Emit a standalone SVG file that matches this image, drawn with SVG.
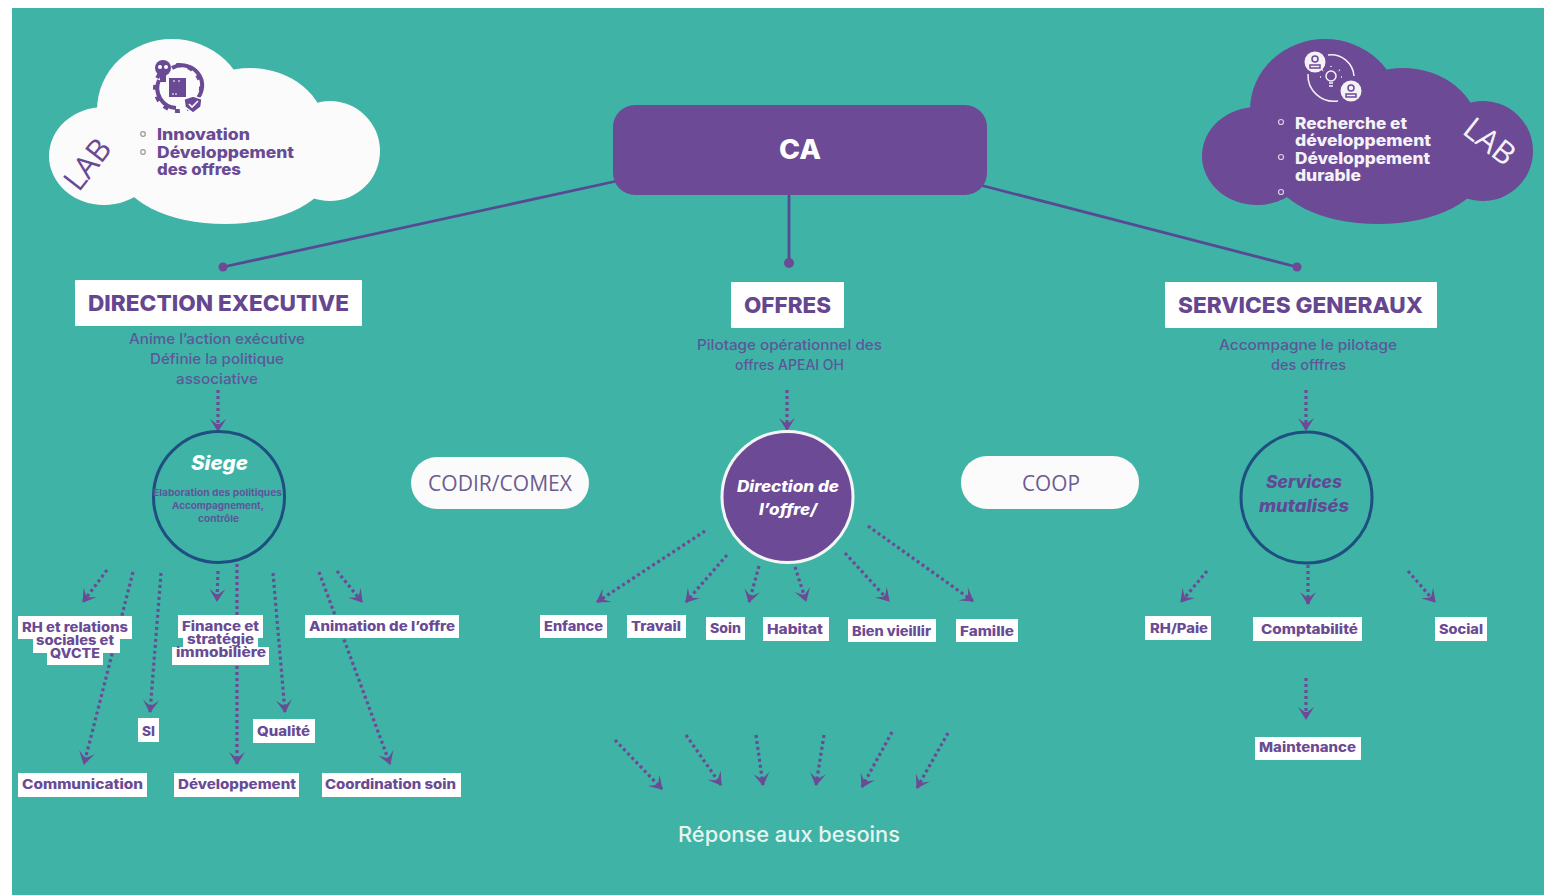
<svg xmlns="http://www.w3.org/2000/svg" width="1544" height="895" viewBox="0 0 1544 895">
<style>
text{font-family:"Inter","Liberation Sans",sans-serif;}
.lb{fill:#fff;}
.t{fill:#6a4a94;font-weight:800;font-size:13px;}
.h{fill:#66468f;font-weight:800;font-size:22px;}
.s{fill:#5c5799;font-weight:500;font-size:14.5px;}
.m{fill:#5c5799;font-weight:700;font-size:9.5px;}
.c{fill:#6a4a94;font-weight:800;font-size:16px;}
.w{fill:#f4f2f6;font-weight:800;font-size:16px;}
.i{font-style:italic;font-weight:800;}
.p{font-family:"Open Sans","Liberation Sans",sans-serif;font-size:22px;fill:#6d5c90;}
.lab{font-family:"Open Sans","Liberation Sans",sans-serif;font-size:31px;font-weight:400;}
.d{fill:none;stroke:#6d4a96;stroke-width:3.2;stroke-dasharray:3 3;marker-end:url(#ah);}
.l{fill:none;stroke:#574a94;stroke-width:2.8;}
.ring{fill:none;stroke:#1f4f80;stroke-width:3;}
</style>
<defs>
<marker id="ah" markerUnits="userSpaceOnUse" markerWidth="20" markerHeight="20" viewBox="-15 -10 20 20" refX="0" refY="0" orient="auto"><path d="M1,0 L-12,-8 L-7,-1.5 L-7,1.5 L-12,8 Z" fill="#6d4a96"/></marker>
<g id="cloud"><ellipse cx="172" cy="110" rx="75" ry="71"/><ellipse cx="250" cy="130" rx="75" ry="62"/><circle cx="330" cy="151" r="50"/><ellipse cx="104" cy="156" rx="55" ry="49"/><ellipse cx="225" cy="170" rx="105" ry="54"/><rect x="105" y="115" width="220" height="65"/></g>
</defs>
<rect width="1544" height="895" fill="#fff"/>
<rect x="12" y="8" width="1532" height="887" fill="#3fb3a6"/>

<g id="connectors">
<path class="l" d="M617,181 L223,267"/><circle cx="223" cy="267" r="4.5" fill="#6d4a96"/>
<path class="l" d="M789,190 L789,263"/><circle cx="789" cy="263" r="5" fill="#6d4a96"/>
<path class="l" d="M980,185 L1297,267"/><circle cx="1297" cy="267" r="4.5" fill="#6d4a96"/>
<path class="d" d="M218,390 L218,431"/>
<path class="d" d="M787,390 L787,430"/>
<path class="d" d="M1306,390 L1306,430"/>
<path class="d" d="M107,570 L83,602"/>
<path class="d" d="M133,572 L84,764"/>
<path class="d" d="M161,573 L150,712"/>
<path class="d" d="M218,571 L217,601"/>
<path class="d" d="M237,564 L237,764"/>
<path class="d" d="M273,573 L285,712"/>
<path class="d" d="M319,572 L390,764"/>
<path class="d" d="M337,571 L362,602"/>
<path class="d" d="M705,531 L597,602"/>
<path class="d" d="M727,555 L686,602"/>
<path class="d" d="M759,566 L749,602"/>
<path class="d" d="M795,567 L806,601"/>
<path class="d" d="M845,553 L889,601"/>
<path class="d" d="M868,526 L973,601"/>
<path class="d" d="M615,740 L662,789"/>
<path class="d" d="M686,735 L721,785"/>
<path class="d" d="M756,735 L763,785"/>
<path class="d" d="M824,735 L816,785"/>
<path class="d" d="M892,732 L862,787"/>
<path class="d" d="M948,733 L917,788"/>
<path class="d" d="M1207,571 L1181,602"/>
<path class="d" d="M1308,565 L1308,604"/>
<path class="d" d="M1408,571 L1435,602"/>
<path class="d" d="M1306,678 L1306,719"/>
</g>

<g id="lab-left">
<use href="#cloud" fill="#fbfbfb"/>
<g id="icon-left">
<path d="M172,68 A20,20 0 1 1 192,103 M176,108 A20,20 0 0 1 159,80" fill="none" stroke="#6a4a94" stroke-width="4"/>
<circle cx="178" cy="88" r="23" fill="none" stroke="#6a4a94" stroke-width="4" stroke-dasharray="5 7" stroke-dashoffset="2"/>
<rect x="169" y="78" width="17" height="19" fill="#6a4a94"/>
<path d="M173,81 h2 M178,81 h2 M172,94 h2 M175,94 h2" stroke="#fff" stroke-width="1"/>
<circle cx="163" cy="68" r="8" fill="#6a4a94"/><rect x="160" y="75" width="6" height="7" fill="#6a4a94"/>
<circle cx="160" cy="67" r="2" fill="#fff"/><circle cx="166" cy="67" r="2" fill="#fff"/>
<path d="M193,96 L202,99 L201,107 L193,113 L185,107 L184,99 Z" fill="#6a4a94" stroke="#fff" stroke-width="1.5"/>
<path d="M189,104 L192,107 L198,101" fill="none" stroke="#fff" stroke-width="1.6"/>
</g>
<circle cx="143" cy="134" r="2.3" fill="none" stroke="#999" stroke-width="1.2"/>
<circle cx="143" cy="152" r="2.3" fill="none" stroke="#999" stroke-width="1.2"/>
<text class="c" x="157" y="140" textLength="93" lengthAdjust="spacingAndGlyphs">Innovation</text>
<text class="c" x="157" y="158" textLength="137" lengthAdjust="spacingAndGlyphs">Développement</text>
<text class="c" x="157" y="175" textLength="84" lengthAdjust="spacingAndGlyphs">des offres</text>
<text class="lab" fill="#6a4a94" text-anchor="middle" transform="translate(96,171) rotate(-52)">LAB</text>
</g>

<g id="lab-right">
<use href="#cloud" x="1153" fill="#6d4a96"/>
<g id="icon-right" fill="none" stroke="#f4f2f6" stroke-width="1.5">
<path d="M1328,55 A23,23 0 0 1 1354,76"/><path d="M1308,74 A26,26 0 0 0 1338,101"/>
<circle cx="1315" cy="62" r="10.5" fill="#f4f2f6" stroke="none"/><circle cx="1351" cy="91" r="10.5" fill="#f4f2f6" stroke="none"/>
<circle cx="1315" cy="59" r="3" stroke="#6d4a96"/><path d="M1310,68 v-3 h10 v3 z" stroke="#6d4a96"/>
<circle cx="1351" cy="88" r="3" stroke="#6d4a96"/><path d="M1346,97 v-3 h10 v3 z" stroke="#6d4a96"/>
<circle cx="1331" cy="76" r="5"/><path d="M1329,83 h4 M1329,86 h4"/>
<path d="M1331,66 v2 M1322,70 l2,1 M1340,70 l-2,1 M1320,77 h2 M1342,77 h-2" stroke-dasharray="1 1"/>
</g>
<circle cx="1281" cy="122" r="2.5" fill="none" stroke="#d8cfe6" stroke-width="1.2"/>
<circle cx="1281" cy="157" r="2.5" fill="none" stroke="#d8cfe6" stroke-width="1.2"/>
<circle cx="1281" cy="192" r="2.5" fill="none" stroke="#d8cfe6" stroke-width="1.2"/>
<text class="w" x="1295" y="129" textLength="112" lengthAdjust="spacingAndGlyphs">Recherche et</text>
<text class="w" x="1295" y="146" textLength="136" lengthAdjust="spacingAndGlyphs">développement</text>
<text class="w" x="1295" y="164" textLength="135" lengthAdjust="spacingAndGlyphs">Développement</text>
<text class="w" x="1295" y="181" textLength="66" lengthAdjust="spacingAndGlyphs">durable</text>
<text class="lab" fill="#f4f2f6" text-anchor="middle" transform="translate(1483,150) rotate(38)">LAB</text>
</g>

<g id="ca"><rect x="613" y="105" width="374" height="90" rx="22" fill="#6d4a96"/><text x="779" y="159" fill="#fff" font-size="27" font-weight="800" textLength="42" lengthAdjust="spacingAndGlyphs">CA</text></g>

<g id="direction-executive">
<rect class="lb" x="75" y="280" width="287" height="46" rx="1"/>
<text class="h" x="88" y="311" textLength="261" lengthAdjust="spacingAndGlyphs">DIRECTION EXECUTIVE</text>
<text class="s" x="129" y="344" textLength="176" lengthAdjust="spacingAndGlyphs">Anime l’action exécutive</text>
<text class="s" x="150" y="364" textLength="134" lengthAdjust="spacingAndGlyphs">Définie la politique</text>
<text class="s" x="176" y="384" textLength="82" lengthAdjust="spacingAndGlyphs">associative</text>
</g>
<g id="offres">
<rect class="lb" x="731" y="282" width="113" height="46" rx="1"/>
<text class="h" x="744" y="313" textLength="87" lengthAdjust="spacingAndGlyphs">OFFRES</text>
<text class="s" x="697" y="350" textLength="185" lengthAdjust="spacingAndGlyphs">Pilotage opérationnel des</text>
<text class="s" x="735" y="370" textLength="109" lengthAdjust="spacingAndGlyphs">offres APEAI OH</text>
</g>
<g id="services-generaux">
<rect class="lb" x="1165" y="282" width="272" height="46" rx="1"/>
<text class="h" x="1178" y="313" textLength="245" lengthAdjust="spacingAndGlyphs">SERVICES GENERAUX</text>
<text class="s" x="1219" y="350" textLength="178" lengthAdjust="spacingAndGlyphs">Accompagne le pilotage</text>
<text class="s" x="1271" y="370" textLength="75" lengthAdjust="spacingAndGlyphs">des offfres</text>
</g>

<g id="siege">
<circle class="ring" cx="219" cy="497" r="65.5"/>
<text class="i" x="191" y="470" fill="#fff" font-size="20" textLength="57" lengthAdjust="spacingAndGlyphs">Siege</text>
<text class="m" x="153" y="496" textLength="129" lengthAdjust="spacingAndGlyphs">Elaboration des politiques</text>
<text class="m" x="172" y="509" textLength="92" lengthAdjust="spacingAndGlyphs">Accompagnement,</text>
<text class="m" x="198" y="522" textLength="41" lengthAdjust="spacingAndGlyphs">contrôle</text>
</g>
<g id="direction-offre">
<circle cx="787.5" cy="497" r="65.5" fill="#6d4a96" stroke="#f4f6f6" stroke-width="3"/>
<text class="i" x="737" y="492" fill="#fff" font-size="16" textLength="102" lengthAdjust="spacingAndGlyphs">Direction de</text>
<text class="i" x="759" y="515" fill="#fff" font-size="16" textLength="58" lengthAdjust="spacingAndGlyphs">l’offre/</text>
</g>
<g id="services-mutalises">
<circle class="ring" cx="1306.5" cy="497.5" r="65.5"/>
<text class="i" x="1266" y="488" fill="#5f4a96" font-size="17" textLength="76" lengthAdjust="spacingAndGlyphs">Services</text>
<text class="i" x="1259" y="512" fill="#5f4a96" font-size="17" textLength="90" lengthAdjust="spacingAndGlyphs">mutalisés</text>
</g>

<g id="codir"><rect x="411" y="457" width="178" height="52" rx="26" fill="#fbfbfb"/><text class="p" x="428" y="491" textLength="144" lengthAdjust="spacingAndGlyphs">CODIR/COMEX</text></g>
<g id="coop"><rect x="961" y="456" width="178" height="53" rx="26" fill="#fbfbfb"/><text class="p" x="1022" y="491" textLength="58" lengthAdjust="spacingAndGlyphs">COOP</text></g>

<g id="rh">
<rect class="lb" x="18" y="616" width="114" height="23"/><rect class="lb" x="33" y="636" width="87" height="17"/><rect class="lb" x="47" y="650" width="56" height="15"/>
<text class="t" x="22" y="632" textLength="106" lengthAdjust="spacingAndGlyphs">RH et relations</text>
<text class="t" x="36" y="645" textLength="78" lengthAdjust="spacingAndGlyphs">sociales et</text>
<text class="t" x="50" y="658" textLength="50" lengthAdjust="spacingAndGlyphs">QVCTE</text>
</g>
<g id="finance">
<rect class="lb" x="178" y="615" width="85" height="23"/><rect class="lb" x="183" y="634" width="75" height="16"/><rect class="lb" x="172" y="647" width="97" height="18"/>
<text class="t" x="182" y="631" textLength="77" lengthAdjust="spacingAndGlyphs">Finance et</text>
<text class="t" x="187" y="644" textLength="67" lengthAdjust="spacingAndGlyphs">stratégie</text>
<text class="t" x="176" y="657" textLength="90" lengthAdjust="spacingAndGlyphs">immobilière</text>
</g>
<g id="animation"><rect class="lb" x="305" y="615" width="154" height="23"/><text class="t" x="309" y="631" textLength="146" lengthAdjust="spacingAndGlyphs">Animation de l’offre</text></g>
<g id="si"><rect class="lb" x="138" y="718" width="21" height="24"/><text class="t" x="142" y="736" textLength="13" lengthAdjust="spacingAndGlyphs">SI</text></g>
<g id="qualite"><rect class="lb" x="253" y="719" width="62" height="24"/><text class="t" x="257" y="736" textLength="53" lengthAdjust="spacingAndGlyphs">Qualité</text></g>
<g id="communication"><rect class="lb" x="18" y="773" width="129" height="24"/><text class="t" x="22" y="789" textLength="121" lengthAdjust="spacingAndGlyphs">Communication</text></g>
<g id="developpement"><rect class="lb" x="174" y="773" width="125" height="24"/><text class="t" x="178" y="789" textLength="118" lengthAdjust="spacingAndGlyphs">Développement</text></g>
<g id="coordination"><rect class="lb" x="322" y="773" width="139" height="24"/><text class="t" x="325" y="789" textLength="131" lengthAdjust="spacingAndGlyphs">Coordination soin</text></g>

<g id="enfance"><rect class="lb" x="540" y="615" width="67" height="23"/><text class="t" x="544" y="631" textLength="59" lengthAdjust="spacingAndGlyphs">Enfance</text></g>
<g id="travail"><rect class="lb" x="627" y="615" width="59" height="23"/><text class="t" x="631" y="631" textLength="50" lengthAdjust="spacingAndGlyphs">Travail</text></g>
<g id="soin"><rect class="lb" x="706" y="617" width="39" height="23"/><text class="t" x="710" y="633" textLength="31" lengthAdjust="spacingAndGlyphs">Soin</text></g>
<g id="habitat"><rect class="lb" x="763" y="617" width="66" height="24"/><text class="t" x="767" y="634" textLength="56" lengthAdjust="spacingAndGlyphs">Habitat</text></g>
<g id="bien-vieillir"><rect class="lb" x="848" y="619" width="88" height="23"/><text class="t" x="852" y="636" textLength="79" lengthAdjust="spacingAndGlyphs">Bien vieillir</text></g>
<g id="famille"><rect class="lb" x="956" y="619" width="62" height="23"/><text class="t" x="960" y="636" textLength="54" lengthAdjust="spacingAndGlyphs">Famille</text></g>

<g id="rh-paie"><rect class="lb" x="1145" y="616" width="66" height="24"/><text class="t" x="1150" y="633" textLength="58" lengthAdjust="spacingAndGlyphs">RH/Paie</text></g>
<g id="comptabilite"><rect class="lb" x="1253" y="617" width="109" height="24"/><text class="t" x="1261" y="634" textLength="97" lengthAdjust="spacingAndGlyphs">Comptabilité</text></g>
<g id="social"><rect class="lb" x="1435" y="617" width="52" height="24"/><text class="t" x="1439" y="634" textLength="44" lengthAdjust="spacingAndGlyphs">Social</text></g>
<g id="maintenance"><rect class="lb" x="1255" y="737" width="106" height="23"/><text class="t" x="1259" y="752" textLength="97" lengthAdjust="spacingAndGlyphs">Maintenance</text></g>

<g id="reponse"><text x="678" y="842" fill="#e6f4f0" font-size="21" font-weight="500" textLength="222" lengthAdjust="spacingAndGlyphs">Réponse aux besoins</text></g>
</svg>
